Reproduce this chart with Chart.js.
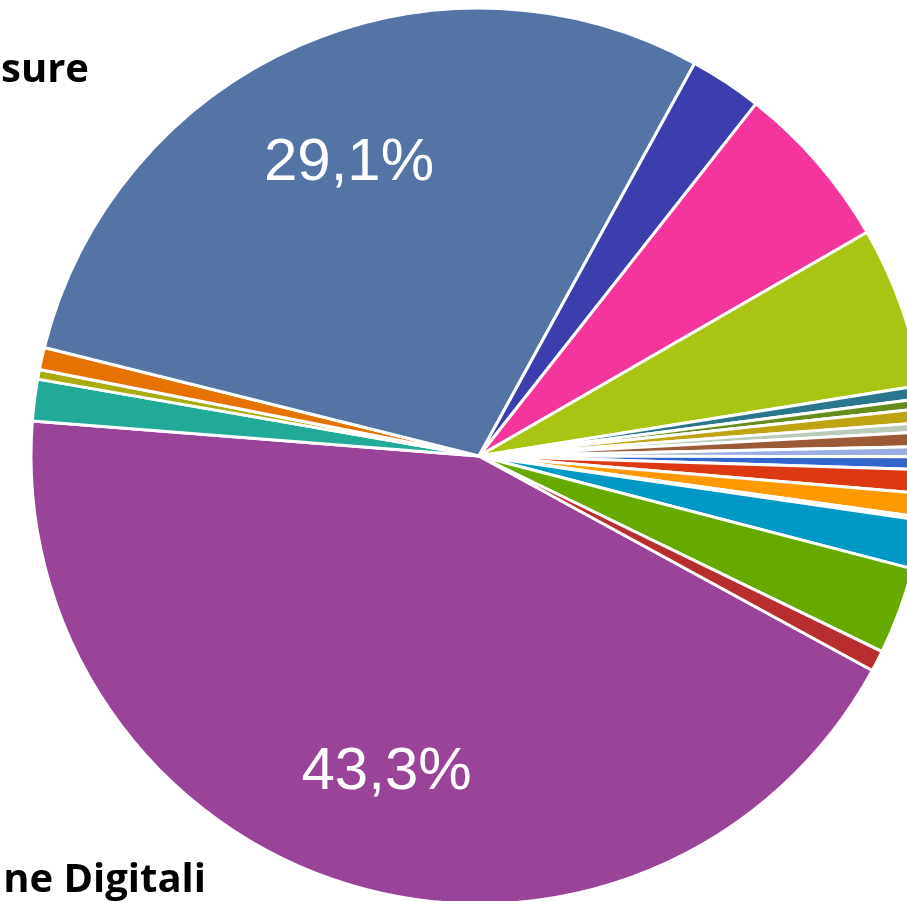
<!DOCTYPE html>
<html>
<head>
<meta charset="utf-8">
<script src="https://cdn.jsdelivr.net/npm/chart.js@4/dist/chart.umd.min.js"></script>
<style>
  html, body { margin: 0; padding: 0; width: 907px; height: 901px; overflow: hidden; background: #fff; }
  #wrap { position: absolute; left: 0; top: 0; width: 958px; height: 912px; }
  .lbl { position: absolute; font-family: "Open Sans", "Noto Sans", sans-serif; font-weight: 700;
         font-size: 40px; line-height: 40px; color: #000; white-space: nowrap; text-align: right; }
</style>
</head>
<body>
<div id="wrap"><canvas id="c" width="958" height="912"></canvas></div>
<div class="lbl" style="right:818px; top:47px;">sure</div>
<div class="lbl" style="right:701px; top:857px;">ne Digitali</div>
<script>
// Slices listed clockwise, starting at the large purple slice
const categories = [
  "ne Digitali", "Cat. 2", "Cat. 3", "Cat. 4", "sure", "Cat. 6", "Cat. 7", "Cat. 8",
  "Cat. 9", "Cat. 10", "Cat. 11", "Cat. 12", "Cat. 13", "Cat. 14", "Cat. 15", "Cat. 16",
  "Cat. 17", "Cat. 18", "Cat. 19", "Cat. 20", "Cat. 21"
];
const shares = [
  43.3, 1.5, 0.35, 0.8, 29.1, 2.61, 6.07, 5.8,
  0.47, 0.36, 0.5, 0.33, 0.53, 0.36, 0.46, 0.86,
  0.85, 0.11, 1.75, 3.14, 0.75
];
const sliceColors = [
  "#994499", "#22aa99", "#aaaa11", "#e67300", "#5574a6", "#3b3eac", "#f4359e", "#a9c413",
  "#2a778d", "#668d1c", "#bea413", "#b8cbb8", "#9c5935", "#9aaee4", "#3366cc", "#dc3912",
  "#ff9900", "#109618", "#0099c6", "#66aa00", "#b82e2e"
];

const pctLabels = {
  id: 'pctLabels',
  afterDatasetsDraw(chart) {
    const ctx = chart.ctx;
    const meta = chart.getDatasetMeta(0);
    const data = chart.data.datasets[0].data;
    const total = data.reduce((a, b) => a + b, 0);
    ctx.save();
    ctx.fillStyle = '#ffffff';
    ctx.font = '60px "Liberation Sans", Arial, sans-serif';
    ctx.textAlign = 'center';
    ctx.textBaseline = 'alphabetic';
    meta.data.forEach((arc, i) => {
      const frac = data[i] / total;
      if (frac < 0.1) return;
      const p = arc.getProps(['x', 'y', 'startAngle', 'endAngle', 'outerRadius'], true);
      const mid = (p.startAngle + p.endAngle) / 2;
      const r = p.outerRadius * 0.725;
      const x = p.x + Math.cos(mid) * r;
      const y = p.y + Math.sin(mid) * r;
      const txt = (frac * 100).toFixed(1).replace('.', ',') + '%';
      ctx.fillText(txt, x, y + 60 * 0.358);
    });
    ctx.restore();
  }
};

new Chart(document.getElementById('c'), {
  type: 'pie',
  data: {
    labels: categories,
    datasets: [{
      data: shares,
      backgroundColor: sliceColors,
      borderColor: '#ffffff',
      borderWidth: 3
    }]
  },
  options: {
    responsive: false,
    animation: false,
    rotation: 118.6,
    radius: 448,
    layout: { padding: 0 },
    plugins: { legend: { display: false }, tooltip: { enabled: false } }
  },
  plugins: [pctLabels]
});
</script>
</body>
</html>
